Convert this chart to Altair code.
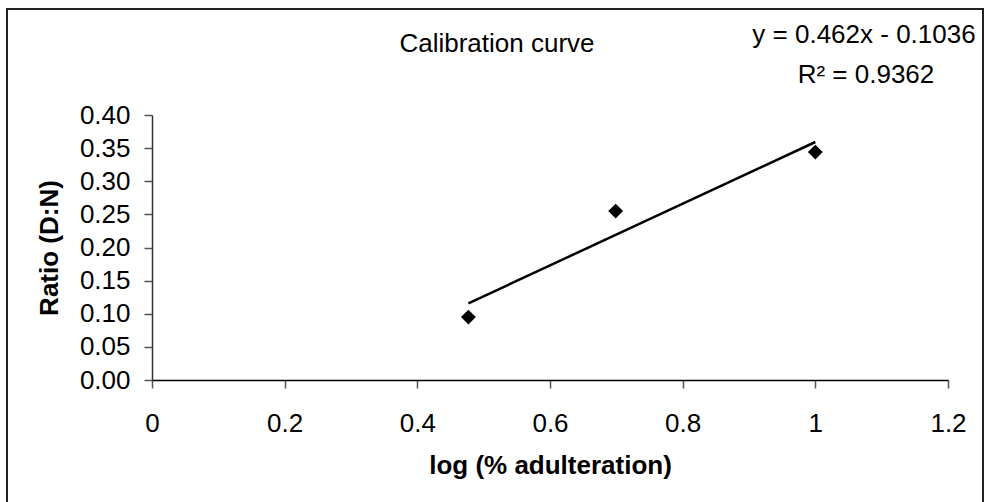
import altair as alt
import pandas as pd

# data
log_adulteration = [0.477, 0.699, 1.0]
ratio_dn = [0.095, 0.255, 0.344]
x_ticks = [0, 0.2, 0.4, 0.6, 0.8, 1.0, 1.2]
y_ticks = [0.0, 0.05, 0.10, 0.15, 0.20, 0.25, 0.30, 0.35, 0.40]
title_text = "Calibration curve"
equation_text = "y = 0.462x - 0.1036"
r2_text = "R\u00b2 = 0.9362"

df = pd.DataFrame({"x": log_adulteration, "y": ratio_dn})

FONT = "Liberation Sans"
W, H = 796, 265
PAD_L, PAD_T = 152, 115

x_enc = alt.X(
    "x:Q",
    scale=alt.Scale(domain=[0, 1.2], nice=False, zero=False),
    axis=alt.Axis(
        title="log (% adulteration)",
        values=x_ticks,
        format="~g",
        grid=False,
        tickSize=8,
        labelPadding=22,
        labelFlush=False,
        labelOverlap=False,
        titleY=93,
        titleBaseline="alphabetic",
        domainColor="#000000",
        domainWidth=1.5,
    ),
)
y_enc = alt.Y(
    "y:Q",
    scale=alt.Scale(domain=[0, 0.4], nice=False),
    axis=alt.Axis(
        title="Ratio (D:N)",
        values=y_ticks,
        format=".2f",
        grid=False,
        tickSize=8,
        labelPadding=14,
        labelFlush=False,
        labelOverlap=False,
        titleX=-103,
        titleY=H / 2,
        titleAngle=-90,
        titleAlign="center",
        titleBaseline="middle",
        domainColor="#333333",
        domainWidth=1.5,
    ),
)

base = alt.Chart(df)

points = base.mark_point(shape="diamond", filled=True, size=220, color="black", opacity=1).encode(
    x=x_enc, y=y_enc
)

trend = base.transform_regression("x", "y").mark_line(color="black", strokeWidth=2.5).encode(
    x=x_enc, y=y_enc
)

one = pd.DataFrame({"a": [0]})

frame = alt.Chart(one).mark_rect(fill="transparent", stroke="#222222", strokeWidth=2).encode(
    x=alt.value(7 - PAD_L), x2=alt.value(983 - PAD_L),
    y=alt.value(9 - PAD_T), y2=alt.value(510 - PAD_T),
)

title_mark = alt.Chart(pd.DataFrame({"t": [title_text]})).mark_text(
    font=FONT, fontSize=26, color="black", align="center", baseline="alphabetic"
).encode(text="t:N", x=alt.value(497 - PAD_L), y=alt.value(52 - PAD_T))

eq_mark = alt.Chart(pd.DataFrame({"t": [equation_text]})).mark_text(
    font=FONT, fontSize=26, color="black", align="center", baseline="alphabetic"
).encode(text="t:N", x=alt.value(864 - PAD_L), y=alt.value(43 - PAD_T))

r2_mark = alt.Chart(pd.DataFrame({"t": [r2_text]})).mark_text(
    font=FONT, fontSize=26, color="black", align="center", baseline="alphabetic"
).encode(text="t:N", x=alt.value(866 - PAD_L), y=alt.value(83 - PAD_T))

chart = (
    alt.layer(frame, trend, points, title_mark, eq_mark, r2_mark)
    .properties(
        width=W,
        height=H,
        autosize=alt.AutoSizeParams(type="none"),
        padding={"left": PAD_L, "top": PAD_T, "right": 987 - PAD_L - W, "bottom": 502 - PAD_T - H},
        background="white",
    )
    .configure_view(stroke=None)
    .configure_axis(
        labelFont=FONT,
        labelFontSize=26,
        labelColor="black",
        titleFont=FONT,
        titleFontSize=26,
        titleFontWeight="bold",
        titleColor="black",
        tickColor="#555555",
        tickWidth=1.5,
    )
)

chart.save("out.html", embed_options={"renderer": "svg", "actions": False})
